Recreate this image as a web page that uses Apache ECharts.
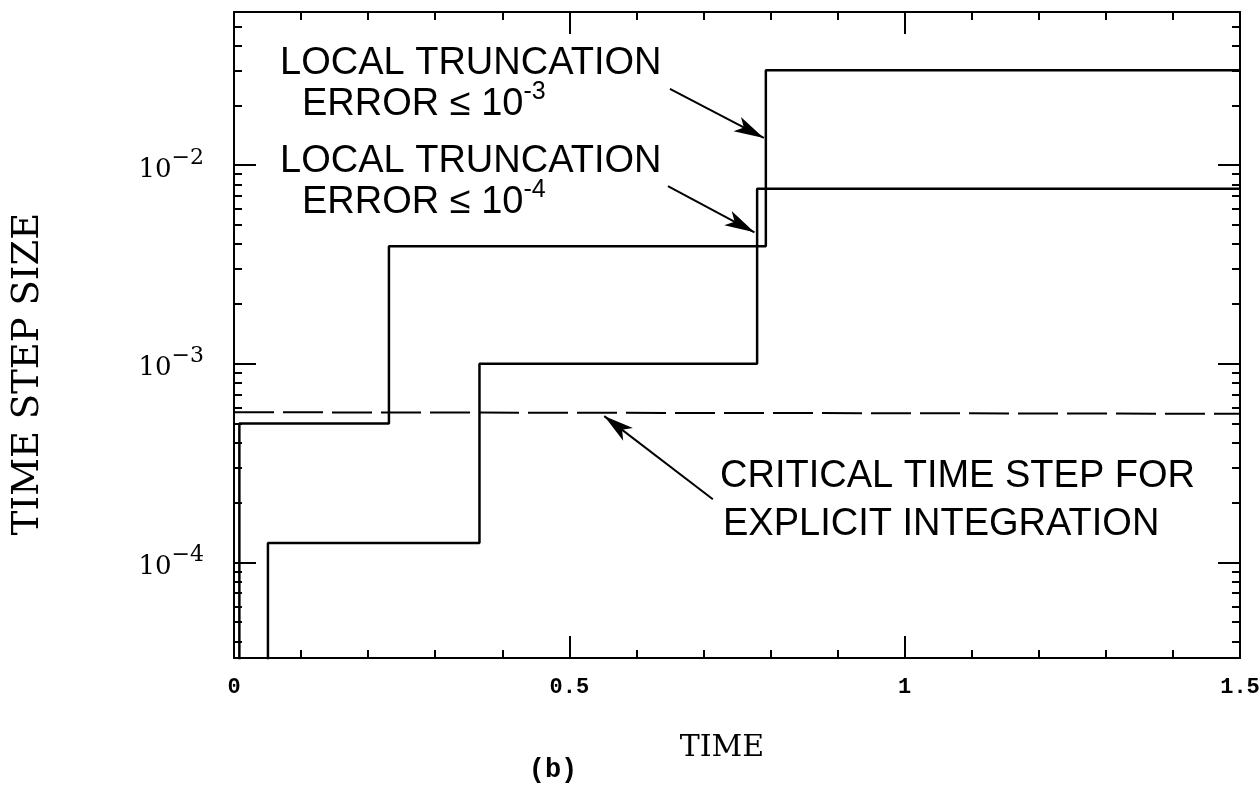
<!DOCTYPE html>
<html>
<head>
<meta charset="utf-8">
<script src="https://cdn.jsdelivr.net/npm/echarts@6/dist/echarts.min.js"></script>
<style>
html,body{margin:0;padding:0;background:#fff;}
#c{width:1260px;height:794px;}
</style>
</head>
<body>
<div id="c"></div>
<script>
// ---------------- data ----------------
// Step size history, local truncation error <= 1e-3  [time, step size]
const lteErr3 = [[0.008, 1e-5], [0.008, 5.0e-4], [0.231, 5.0e-4], [0.231, 3.9e-3], [0.793, 3.9e-3], [0.793, 3.0e-2], [1.5, 3.0e-2]];
// Step size history, local truncation error <= 1e-4
const lteErr4 = [[0.0506, 1e-5], [0.0506, 1.25e-4], [0.366, 1.25e-4], [0.366, 1.0e-3], [0.78, 1.0e-3], [0.78, 7.6e-3], [1.5, 7.6e-3]];
// Critical time step for explicit integration
const criticalStep = [[0, 5.7e-4], [1.5, 5.6e-4]];

// axis ranges and ticks
const xRange = [0, 1.5];
const yRange = [3.3e-5, 0.059];
const xTickValues = [0, 0.5, 1, 1.5];
const xTickLabels = ['0', '0.5', '1', '1.5'];
const yMajorTicks = [1e-4, 1e-3, 1e-2];
const yMinorTicks = [4e-5, 5e-5, 6e-5, 7e-5, 8e-5, 9e-5,
                     2e-4, 3e-4, 4e-4, 5e-4, 6e-4, 7e-4, 8e-4, 9e-4,
                     2e-3, 3e-3, 4e-3, 5e-3, 6e-3, 7e-3, 8e-3, 9e-3,
                     2e-2, 3e-2, 4e-2, 5e-2];

// annotation arrows (data coordinates): tail -> tip
const arrowTails = [[0.650, 2.42e-2], [0.647, 7.83e-3], [0.714, 2.08e-4]];
const arrowTips  = [[0.790, 1.37e-2], [0.776, 4.59e-3], [0.552, 5.45e-4]];

// texts
const xTitle = 'TIME';
const yTitle = 'TIME STEP SIZE';
const caption = '(b)';
const note1 = ['LOCAL TRUNCATION', 'ERROR ≤ 10', '-3'];
const note2 = ['LOCAL TRUNCATION', 'ERROR ≤ 10', '-4'];
const note3 = ['CRITICAL TIME STEP FOR', 'EXPLICIT INTEGRATION'];

// ---------------- chart ----------------
const black = '#000';
const serif = '"DejaVu Serif", serif';
const sans = '"Liberation Sans", Arial, sans-serif';
const mono = '"Liberation Mono", monospace';
const chart = echarts.init(document.getElementById('c'), null, {renderer: 'canvas', width: 1260, height: 794});

const tickLine = {color: black, width: 2};

function xAxisDef(pos, showLabel) {
  return {
    type: 'value', position: pos, min: xRange[0], max: xRange[1], interval: 0.5,
    axisLine: {show: true, onZero: false, lineStyle: tickLine},
    axisTick: {show: true, inside: true, length: 22, lineStyle: tickLine},
    minorTick: {show: true, splitNumber: 5, length: 8, lineStyle: tickLine},
    splitLine: {show: false}, minorSplitLine: {show: false},
    axisLabel: {
      show: showLabel, color: black, fontFamily: mono, fontWeight: 'bold', fontSize: 22, margin: 18,
      formatter: function (v) {
        const i = xTickValues.findIndex(t => Math.abs(t - v) < 1e-9);
        return i >= 0 ? xTickLabels[i] : '';
      }
    }
  };
}

function yAxisDef(pos, ticks, len, showLine, showLabel) {
  return {
    type: 'log', logBase: 10, position: pos, min: yRange[0], max: yRange[1],
    axisLine: {show: showLine, lineStyle: tickLine},
    axisTick: {show: true, inside: true, length: len, lineStyle: tickLine, customValues: ticks},
    minorTick: {show: false}, splitLine: {show: false}, minorSplitLine: {show: false},
    axisLabel: {
      show: showLabel, customValues: yMajorTicks, margin: 30,
      formatter: function (v) {
        const e = Math.round(Math.log10(v));
        return '{b|10}{s|\u2212' + Math.abs(e) + '}';
      },
      rich: {
        b: {fontFamily: serif, fontSize: 26, color: black, lineHeight: 36, verticalAlign: 'bottom'},
        s: {fontFamily: serif, fontSize: 22, color: black, lineHeight: 20, verticalAlign: 'top'}
      }
    }
  };
}

function noteText(x, y, str) {
  return {type: 'text', x: x, y: y, silent: true,
    style: {text: str, font: '38px ' + sans, fill: black, align: 'left', verticalAlign: 'middle'}};
}
function noteRich(x, y, base, sup) {
  return {type: 'text', x: x, y: y, silent: true,
    style: {
      text: '{a|' + base + '}{s|' + sup + '}', align: 'left', verticalAlign: 'middle', fill: black,
      rich: {
        a: {fontFamily: sans, fontSize: 38, lineHeight: 44, verticalAlign: 'bottom', fill: black},
        s: {fontFamily: sans, fontSize: 25, lineHeight: 22, verticalAlign: 'top', fill: black}
      }
    }};
}

const lineStyleSolid = {color: black, width: 2.5};

const option = {
  backgroundColor: '#fff',
  animation: false,
  grid: {left: 234, right: 20, top: 12, bottom: 136, containLabel: false, outerBoundsMode: 'none'},
  xAxis: [xAxisDef('bottom', true), xAxisDef('top', false)],
  yAxis: [
    yAxisDef('left', yMajorTicks, 22, true, true),
    yAxisDef('left', yMinorTicks, 8, false, false),
    yAxisDef('right', yMajorTicks, 22, true, false),
    yAxisDef('right', yMinorTicks, 8, false, false)
  ],
  series: [
    {name: 'LTE 1e-3', type: 'line', data: lteErr3, xAxisIndex: 0, yAxisIndex: 0,
     showSymbol: false, symbol: 'none', lineStyle: lineStyleSolid, silent: true},
    {name: 'LTE 1e-4', type: 'line', data: lteErr4, xAxisIndex: 0, yAxisIndex: 0,
     showSymbol: false, symbol: 'none', lineStyle: lineStyleSolid, silent: true},
    {name: 'Critical', type: 'line', data: criticalStep, xAxisIndex: 0, yAxisIndex: 0,
     showSymbol: false, symbol: 'none', silent: true,
     lineStyle: {color: black, width: 2, type: [40, 9]},
     markLine: {
       silent: true, animation: false, symbol: ['none', 'arrow'],
       lineStyle: {color: black, width: 2, type: 'solid'},
       label: {show: false},
       data: arrowTails.map((t, i) => [
         {coord: t, symbol: 'none'},
         {coord: arrowTips[i], symbol: 'arrow', symbolSize: [12, 30]}
       ])
     }}
  ],
  graphic: [
    {type: 'text', x: 28, y: 374, rotation: Math.PI / 2, silent: true,
     style: {text: yTitle, font: '37px ' + serif, fill: black, align: 'center', verticalAlign: 'middle'}},
    {type: 'text', x: 722, y: 748, silent: true,
     style: {text: xTitle, font: '30px ' + serif, fill: black, align: 'center', verticalAlign: 'middle'}},
    {type: 'text', x: 553, y: 770, silent: true,
     style: {text: caption, font: 'bold 27px ' + mono, fill: black, align: 'center', verticalAlign: 'middle'}},
    noteText(280, 63.5, note1[0]),
    noteRich(302, 102, note1[1], note1[2]),
    noteText(280, 161.5, note2[0]),
    noteRich(302, 200, note2[1], note2[2]),
    noteText(720, 476.5, note3[0]),
    noteText(723, 525, note3[1])
  ]
};
chart.setOption(option);
</script>
</body>
</html>
